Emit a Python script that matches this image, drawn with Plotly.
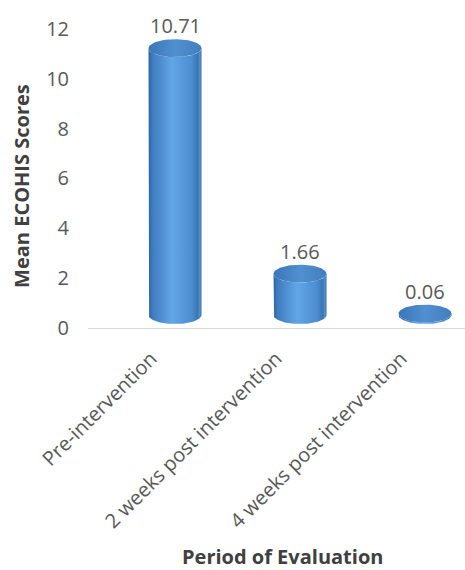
import numpy as np
import plotly.graph_objects as go

categories = ["Pre-intervention", "2 weeks post intervention", "4 weeks post intervention"]
values = [10.71, 1.66, 0.06]
value_labels = ["10.71", "1.66", "0.06"]
y_ticks = [0, 2, 4, 6, 8, 10, 12]
x_title = "Period of Evaluation"
y_title = "Mean ECOHIS Scores"

# style constants (not data)
RX = 0.212      # cylinder half width (x units)
RY = 0.36       # ellipse half height (y units)
OFF = 0.52      # 3-D depth lift of the cylinders (y units)
FONT = "Open Sans"

body_scale = [[0, "#2c64a2"], [0.08, "#3f7dc0"], [0.45, "#63a6e6"],
              [0.82, "#4b8dd0"], [0.93, "#3a76b6"], [0.97, "#5a93cc"], [1, "#2f68a6"]]
top_scale = [[0, "#3a76b8"], [0.5, "#5190d0"], [1, "#417ec0"]]

fig = go.Figure()
t_low = np.linspace(np.pi, 2 * np.pi, 60)
t_full = np.linspace(0, 2 * np.pi, 120)
for i, v in enumerate(values):
    yb, yt = OFF, v + OFF
    xs = [i - RX] + list(i + RX * np.cos(t_low)) + [i + RX] + list(i + RX * np.cos(t_low[::-1]))
    ys = [yt] + list(yb + RY * np.sin(t_low)) + [yt] + list(yt + RY * np.sin(t_low[::-1]))
    fig.add_trace(go.Scatter(x=xs, y=ys, mode="lines", fill="toself", line=dict(width=0),
                             fillgradient=dict(type="horizontal", colorscale=body_scale),
                             hoverinfo="skip", showlegend=False))
    fig.add_trace(go.Scatter(x=list(i + RX * np.cos(t_full)), y=list(yt + RY * np.sin(t_full)),
                             mode="lines", fill="toself", line=dict(width=0),
                             fillgradient=dict(type="horizontal", colorscale=top_scale),
                             hoverinfo="skip", showlegend=False))
    fig.add_annotation(x=i, y=yt + RY, text=value_labels[i], showarrow=False,
                       yanchor="bottom", yshift=-2,
                       font=dict(family=FONT, size=20, color="#595959"))

# axis titles
fig.add_annotation(xref="paper", yref="paper", x=-0.175, y=0.46, text="<b>%s</b>" % y_title,
                   textangle=-90, showarrow=False, xanchor="center", yanchor="middle",
                   font=dict(family=FONT, size=20, color="#404040"))
fig.add_annotation(xref="paper", yref="paper", x=0.517, y=-0.741, text="<b>%s</b>" % x_title,
                   showarrow=False, xanchor="center", yanchor="middle",
                   font=dict(family=FONT, size=20, color="#404040"))

fig.update_layout(
    width=465, height=570,
    margin=dict(l=88, r=0, t=19, b=242),
    paper_bgcolor="white", plot_bgcolor="white",
    font=dict(family=FONT, color="#595959"),
    xaxis=dict(range=[-0.696, 2.32], tickvals=[0, 1, 2], ticktext=categories,
               tickangle=-45, showgrid=False, zeroline=False,
               showline=True, linecolor="#d9d9d9", linewidth=1,
               tickfont=dict(size=20, color="#595959"), ticks="",
               ticklabelshift=-24, ticklabelstandoff=10),
    yaxis=dict(range=[0, 12.4], tickvals=y_ticks, showgrid=False, zeroline=False,
               showline=False, tickfont=dict(size=20, color="#595959"), ticks="",
               ticklabelstandoff=18),
)

fig.write_html("out.html")
